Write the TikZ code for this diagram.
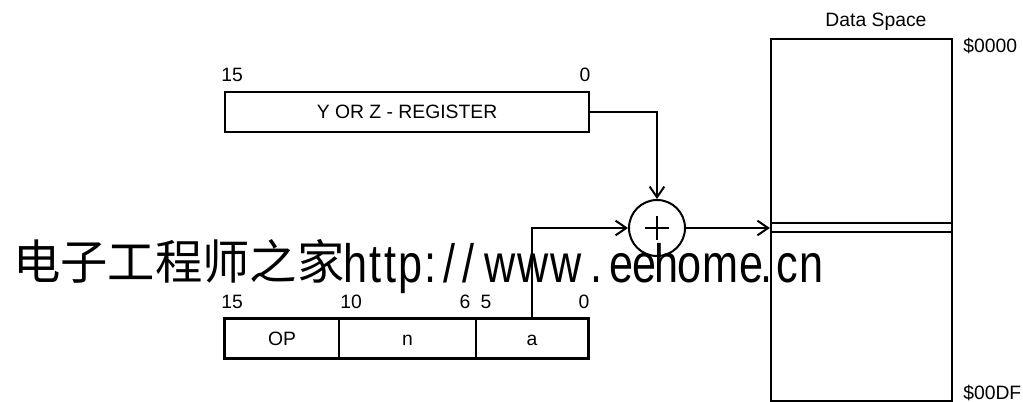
\documentclass[tikz,border=0pt]{standalone}
\usepackage{fontspec}
\setmainfont{Liberation Sans}
\newfontfamily\cjk{Noto Sans CJK SC}
\usetikzlibrary{arrows.meta}
\begin{document}
\begin{tikzpicture}[x=0.75pt,y=-0.75pt,
  lbl/.style={font=\fontsize{14.5pt}{16pt}\selectfont, inner sep=0pt},
  regbox/.style={draw, line width=1.7pt, minimum height=30pt, inner sep=0pt, font=\fontsize{14.5pt}{16pt}\selectfont, text height=10.4pt, text depth=0pt},
  field/.style={draw, line width=1pt, minimum height=29.25pt, inner sep=0pt, font=\fontsize{14.5pt}{16pt}\selectfont, text height=10.4pt, text depth=0pt},
  conn/.style={line width=1.5pt, -{Straight Barb[length=8pt,width=11pt,line width=1.5pt]}},
  thin/.style={line width=0.8pt},
  wmc/.style={font=\cjk\fontsize{35.5pt}{40pt}\selectfont, inner sep=0pt, anchor=base west},
  wml/.style={font=\fontsize{40.5pt}{44pt}\selectfont, inner sep=0pt, anchor=base}
]
\useasboundingbox (0,0) rectangle (1023,402);
% watermark
\node[wmc] (wmcjk) at (13,280) {电子工程师之家};
\foreach \c/\px [count=\i] in {h/356,t/375,t/390,p/411,:/430,w/500,w/533,w/566,./596,e/622,e/645,h/667,o/690,m/720,e/751,./766,c/787,n/811}
  \node[wml] (wm\i) at (\px,283) {\scalebox{0.8}[1]{\c}};
\node[wml] (wms1) at (449,283) {\scalebox{0.8}[1]{/}};
\node[wml] (wms2) at (468,283) {\scalebox{0.8}[1]{/}};
% top register
\node[regbox, minimum width=273pt] (reg) at (407,112) {Y OR Z - REGISTER};
\node[lbl] (r15) at (232,75) {15};
\node[lbl] (r0) at (585,75) {0};
% bottom instruction word
\node[field, minimum width=85.5pt] (op) at (282,338.5) {OP};
\node[field, minimum width=102.75pt] (n) at (407.5,338.5) {n};
\node[field, minimum width=84pt] (a) at (532,338.5) {a};
\draw[line width=1.7pt] (op.north west) rectangle (a.south east);
\node[lbl] (b15) at (232,302) {15};
\node[lbl] (b10) at (351,302) {10};
\node[lbl] (b6) at (465,302) {6};
\node[lbl] (b5) at (486,302) {5};
\node[lbl] (b0) at (584,302) {0};
% adder
\node[draw, circle, line width=1.5pt, minimum size=42pt, inner sep=0pt] (add) at (657,228) {};
\draw[thin] (645,228) -- (669,228) (657,216) -- (657,240);
% data space
\node[draw, line width=1.7pt, minimum width=135.75pt, minimum height=271.5pt, inner sep=0pt] (ds) at (861.5,220) {};
\draw[thin] (ds.west |- 0,223) -- (ds.east |- 0,223);
\draw[thin] (ds.west |- 0,232) -- (ds.east |- 0,232);
\node[lbl] (dsl) at (876,22) {Data Space};
\node[lbl, anchor=west] (a0) at (963,46) {\$0000};
\node[lbl, anchor=west] (adf) at (963,393) {\$00DF};
% connectors
\draw[conn] (reg.east) -| (add.north);
\draw[conn] (a.north) |- (add.west);
\draw[conn] (add.east) -- (ds.west |- add.east);
\end{tikzpicture}
\end{document}
